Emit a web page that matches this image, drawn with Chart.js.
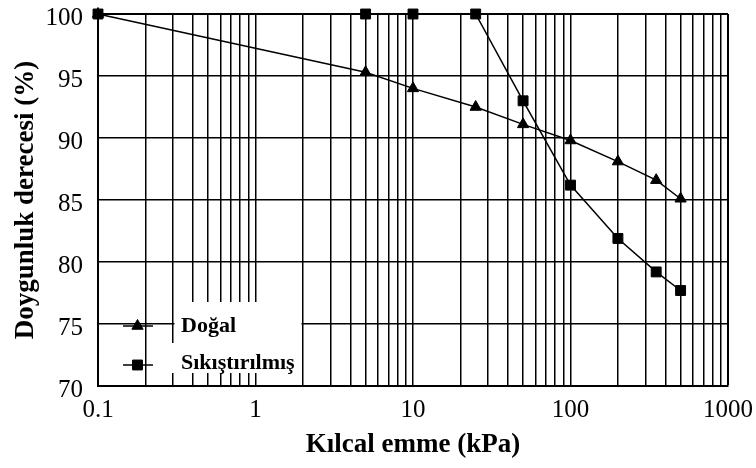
<!DOCTYPE html>
<html>
<head>
<meta charset="utf-8">
<script src="https://cdn.jsdelivr.net/npm/chart.js@4"></script>
<style>
  html, body { margin: 0; padding: 0; background: #fff; }
  #wrap { width: 756px; height: 468px; }
</style>
</head>
<body>
<div id="wrap"><canvas id="c" width="756" height="468"></canvas></div>
<script>
// Capillary suction (kPa) vs degree of saturation (%)
const seriesNames = ['Doğal', 'Sıkıştırılmış'];
const suctionKPa = [0.1, 5, 10, 25, 50, 100, 200, 350, 500];
const saturationDogal = [100, 95.3, 94.0, 92.5, 91.1, 89.8, 88.1, 86.6, 85.1];
const saturationSikistirilmis = [100, 100, 100, 100, 93.0, 86.2, 81.9, 79.2, 77.7];
const xDecades = [0.1, 1, 10, 100, 1000];
const yTickValues = [70, 75, 80, 85, 90, 95, 100];
const xTitle = 'Kılcal emme (kPa)';
const yTitle = 'Doygunluk derecesi (%)';

// log grid: every decade plus its 2..9 multiples
const xGridValues = [];
xDecades.forEach((d, i) => {
  xGridValues.push(d);
  if (i < xDecades.length - 1) {
    for (let m = 2; m <= 9; m++) xGridValues.push(Number((m * d).toPrecision(3)));
  }
});

const serif = '"Liberation Serif", "Times New Roman", serif';

function toPoints(ys) {
  return suctionKPa.map((x, i) => ({ x: x, y: ys[i] }));
}

// legend drawn inside the plot on a white panel
const innerLegend = {
  id: 'innerLegend',
  beforeDatasetsDraw(chart) {
    const ctx = chart.ctx;
    ctx.save();
    ctx.fillStyle = '#fff';
    ctx.fillRect(174.5, 302, 127, 71);
    ctx.fillRect(171.5, 343, 130, 30);
    ctx.restore();
  },
  afterDatasetsDraw(chart) {
    const ctx = chart.ctx;
    const rows = [326, 365];
    const baselines = [331.5, 369];
    ctx.save();
    chart.data.datasets.forEach((ds, i) => {
      const y = rows[i];
      ctx.strokeStyle = '#000';
      ctx.lineWidth = 1.5;
      ctx.beginPath();
      ctx.moveTo(123, y);
      ctx.lineTo(153, y);
      ctx.stroke();
      ctx.fillStyle = '#000';
      ctx.lineWidth = 1;
      Chart.helpers.drawPoint(ctx, {
        pointStyle: ds.pointStyle,
        radius: ds.pointRadius,
        rotation: 0,
        borderWidth: 1
      }, 137.5, y);
      ctx.fillStyle = '#000';
      ctx.font = 'bold 22px ' + serif;
      ctx.textBaseline = 'alphabetic';
      ctx.textAlign = 'left';
      ctx.fillText(ds.label, 181, baselines[i]);
    });
    ctx.restore();
  }
};

new Chart(document.getElementById('c'), {
  type: 'line',
  data: {
    datasets: [
      {
        label: seriesNames[0],
        data: toPoints(saturationDogal),
        borderColor: '#000',
        backgroundColor: '#000',
        borderWidth: 1.5,
        pointStyle: 'triangle',
        pointRadius: 6.5,
        pointBorderWidth: 1,
        tension: 0,
        clip: false,
        order: 1
      },
      {
        label: seriesNames[1],
        data: toPoints(saturationSikistirilmis),
        borderColor: '#000',
        backgroundColor: '#000',
        borderWidth: 1.5,
        pointStyle: 'rect',
        pointRadius: 7,
        pointBorderWidth: 1,
        tension: 0,
        clip: false,
        order: 0
      }
    ]
  },
  options: {
    responsive: false,
    animation: false,
    devicePixelRatio: 1,
    layout: { padding: { top: 14, right: 28, left: 0, bottom: 0 } },
    plugins: {
      legend: { display: false },
      tooltip: { enabled: false }
    },
    scales: {
      x: {
        type: 'logarithmic',
        min: 0.1,
        max: 1000,
        afterBuildTicks(scale) {
          scale.ticks = xGridValues.map(v => ({ value: v }));
        },
        afterFit(scale) {
          scale.height = 82;
          scale.paddingLeft = 0;
          scale.paddingRight = 0;
        },
        ticks: {
          autoSkip: false,
          maxRotation: 0,
          minRotation: 0,
          padding: 9,
          color: '#000',
          font: { family: serif, size: 25 },
          callback: (v) => xDecades.includes(v) ? String(v) : ''
        },
        grid: {
          color: '#000',
          lineWidth: (c) => (c.tick && c.tick.value === 1000) ? 2 : 1.5,
          drawTicks: false
        },
        border: { color: '#000', width: 2 },
        title: {
          display: true,
          text: xTitle,
          color: '#000',
          font: { family: serif, size: 27, weight: 'bold' },
          padding: { top: 0, bottom: 7 }
        }
      },
      y: {
        type: 'linear',
        min: 70,
        max: 100,
        afterBuildTicks(scale) {
          scale.ticks = yTickValues.map(v => ({ value: v }));
        },
        afterFit(scale) {
          scale.width = 98;
          scale.paddingTop = 0;
          scale.paddingBottom = 0;
        },
        ticks: {
          padding: 15,
          labelOffset: 4,
          color: '#000',
          font: { family: serif, size: 25 }
        },
        grid: {
          color: '#000',
          lineWidth: (c) => (c.tick && c.tick.value === 100) ? 2 : 1.5,
          drawTicks: false
        },
        border: { color: '#000', width: 2 },
        title: {
          display: true,
          text: yTitle,
          color: '#000',
          font: { family: serif, size: 27, weight: 'bold' },
          padding: { top: 10, bottom: 0 }
        }
      }
    }
  },
  plugins: [innerLegend]
});
</script>
</body>
</html>
